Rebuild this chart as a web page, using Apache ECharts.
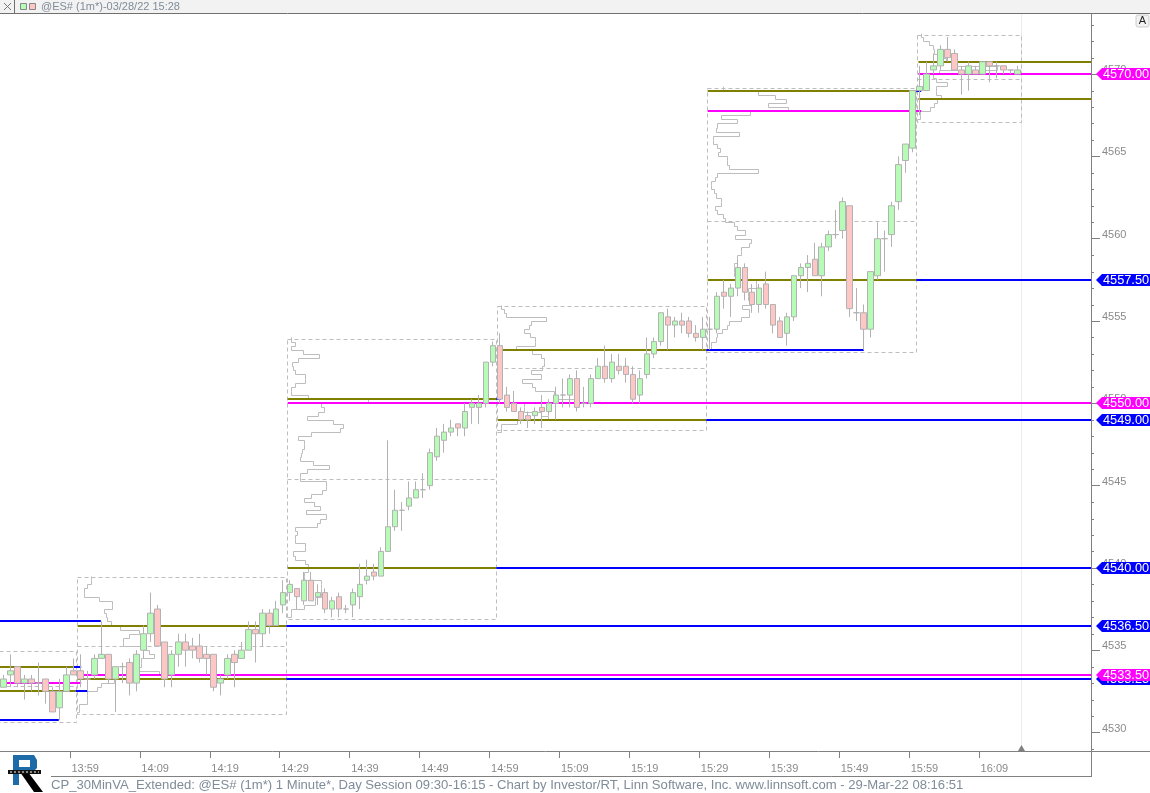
<!DOCTYPE html>
<html>
<head>
<meta charset="utf-8">
<style>html,body{margin:0;padding:0;background:#fff}#c{width:1150px;height:793px}</style>
<script src="https://cdn.jsdelivr.net/npm/echarts@6/dist/echarts.min.js"></script>
</head>
<body>
<div id="c"></div>
<script>
// Ticks and labels
const timeTickLabels = ['13:59','14:09','14:19','14:29','14:39','14:49','14:59','15:09','15:19','15:29','15:39','15:49','15:59','16:09'];
const priceLabelValues = [4530,4535,4540,4545,4550,4555,4560,4565,4570];
const priceMinorValues = [4529,4531,4532,4533,4534,4536,4537,4538,4539,4541,4542,4543,4544,4546,4547,4548,4549,4551,4552,4553,4554,4556,4557,4558,4559,4561,4562,4563,4564,4566,4567,4568,4569,4571,4572,4573];
const barCount = 156;

// One minute bars: open, close, low, high
const ohlc = [
[4532.75,4533.25,4532.75,4533.5],[4533.5,4533.75,4532.75,4534.75],[4534,4533,4532.75,4534],[4533,4533.25,4532,4533.5],
[4533.25,4533,4532.5,4533.5],[4533,4533,4532.25,4534.25],[4533.25,4532.5,4531.75,4533.25],[4532.5,4531.25,4531.25,4532.75],
[4531.5,4532.5,4530.75,4533.25],[4532.5,4533.5,4532.5,4534],[4533.75,4533.5,4533.5,4534.5],[4533.75,4533.25,4532.75,4534.75],
[4533.25,4533.25,4532.5,4533.75],[4533.5,4534.5,4533.25,4534.75],[4534.5,4534.75,4534.5,4536.75],[4534.75,4533.25,4533,4534.75],
[4533.25,4534,4531.25,4534],[4534,4534,4533,4534.25],[4534.25,4533,4532.25,4534.5],[4533,4534.75,4532.5,4535],
[4535,4536,4534.5,4536.5],[4536,4537.25,4535.5,4538.5],[4537.5,4535.25,4535.25,4537.75],[4535.5,4533.25,4532.75,4535.5],
[4533.5,4534.75,4532.75,4535],[4534.75,4535.5,4534,4536],[4535.5,4535,4534,4536],[4535.25,4535,4534.5,4535.75],
[4535.25,4534.5,4534.25,4536],[4534.75,4534.5,4533.5,4535.25],[4534.75,4532.75,4532.5,4534.75],[4533,4533.25,4532.25,4533.5],
[4533.5,4534.5,4533.25,4534.75],[4534.75,4534.25,4532.75,4535],[4534.5,4535,4534.5,4535.5],[4535,4536.25,4535,4536.75],
[4536.25,4536,4534.25,4536.75],[4536,4537.25,4535.25,4537.5],[4537.25,4536.5,4536,4537.5],[4536.5,4537.5,4536.5,4538],
[4537.75,4538.5,4537.25,4539.25],[4538.5,4539,4538,4539.25],[4538.75,4538.25,4537.5,4538.75],[4538,4539.25,4537.75,4539.75],
[4539.25,4538,4538,4539.75],[4538.25,4538.5,4537.75,4539],[4538.5,4537.5,4537.25,4538.75],[4537.5,4538,4537,4538.25],
[4538.25,4537.5,4537,4538.5],[4537.5,4537.5,4537.25,4537.75],[4537.75,4538.5,4537,4538.75],[4538.25,4539,4537.5,4540.25],
[4539.25,4539.5,4539,4540.5],[4539.75,4539.5,4539.25,4540.25],[4539.5,4541,4539.5,4541.25],[4541,4542.5,4541,4547.75],
[4542.5,4543.5,4542.25,4544.75],[4543.5,4543.5,4542.25,4544],[4543.75,4544.25,4543.5,4545.25],[4544.25,4544.75,4544.25,4545.25],
[4544.75,4544.75,4544.25,4545.75],[4545,4547,4544.75,4547.25],[4546.75,4548,4546.5,4548.5],[4547.75,4548.25,4547,4548.75],
[4548.25,4548.5,4548,4549],[4548.75,4548.5,4548,4548.75],[4548.5,4549.5,4548,4550],[4549.75,4550,4548.75,4550.25],
[4549.75,4550,4548.75,4550.5],[4550,4552.5,4549.75,4552.5],[4552.5,4553.5,4552.25,4553.75],[4553.5,4550.25,4550,4554.25],
[4550.5,4549.75,4549.5,4551],[4550,4549.5,4549.5,4550.75],[4549.5,4549,4548.75,4549.75],[4549.25,4549,4548.5,4549.5],
[4549.25,4549.5,4548.75,4549.75],[4549.75,4549.5,4548.5,4550.5],[4549.5,4550,4549.25,4550.25],[4550,4550.5,4549,4551],
[4550.5,4550.5,4549.75,4551.5],[4550.5,4551.5,4549.75,4551.75],[4551.5,4549.75,4549.5,4552],[4550,4550,4549.75,4551],
[4550,4551.5,4549.75,4551.75],[4551.5,4552.25,4551.5,4552.75],[4552.25,4551.5,4551.25,4553.5],[4551.5,4552.5,4551.25,4553],
[4552.25,4552,4551.75,4553],[4552.25,4551.75,4551.25,4552.75],[4551.75,4550.25,4550,4552.25],[4550.5,4551.5,4550,4552],
[4551.75,4553,4551.5,4554],[4553,4553.75,4552.75,4554],[4553.75,4555.5,4553.5,4555.5],[4555.25,4554.75,4553.25,4555.75],
[4554.75,4555,4554,4555.25],[4555,4554.75,4554.25,4555.5],[4555,4554.25,4554,4555.25],[4554.25,4554,4553.75,4554.75],
[4554,4554.5,4553.25,4555.25],[4554.5,4554.5,4553.25,4555.25],[4554.5,4556.5,4554.25,4556.75],[4556.75,4556.5,4555.75,4557.5],
[4556.5,4557,4555.25,4557.25],[4557,4558.25,4556.5,4558.75],[4558.25,4556.75,4556.25,4558.5],[4556.75,4556,4555.5,4557.25],
[4556,4557,4555.5,4557.25],[4557.25,4556,4555.75,4558],[4556,4554.75,4554.25,4556],[4555,4554,4554,4555.25],
[4554.25,4555.25,4553.5,4555.5],[4555.25,4557.75,4555,4557.75],[4557.75,4558.25,4557,4558.5],[4558.25,4558.5,4556.75,4559],
[4558.75,4557.75,4557.75,4559.75],[4557.75,4559.5,4556.5,4559.75],[4559.5,4560.25,4559.25,4560.5],[4560.25,4560.25,4560,4561.75],
[4560.5,4562.25,4560,4562.5],[4562,4555.75,4555.25,4562],[4555.5,4555.5,4555,4557],[4555.5,4554.5,4553.25,4556],
[4554.5,4558,4554,4558],[4557.75,4560,4557.5,4561],[4560,4560,4558,4560.5],[4560.25,4562,4559.5,4562.25],
[4562.25,4564.5,4561.75,4565],[4564.75,4565.75,4564,4565.75],[4565.5,4569,4565.25,4569],[4569,4569.25,4567.5,4570.5],
[4569,4570,4569,4570.75],[4570.25,4570.5,4570,4571.25],[4570.5,4571.5,4570.25,4571.75],[4571.5,4571,4570.75,4572.25],
[4571.25,4570.25,4570.25,4571.5],[4570.25,4570,4568.75,4570.5],[4570,4570.5,4569,4570.75],[4570.25,4570,4570,4570.5],
[4570,4570.75,4570,4570.75],[4570.75,4570.5,4569.5,4570.75],[4570.5,4570.5,4569.75,4570.75],[4570.5,4570.25,4570,4570.5],
[4570.25,4570.25,4570,4570.25],[4570,4570.25,4570,4570.5]
];

// Horizontal levels: start bar, end bar, price
const oliveLevels = [[-0.5,10,4534],[-0.5,10.3,4532.5],[10.6,40.4,4536.5],[10.6,40.4,4533.25],[40.6,70.4,4550.25],[40.6,70.4,4540],[70.6,100.4,4553.25],[70.6,100.4,4549],[100.6,130.4,4569],[100.6,130.4,4557.5],[130.7,155.4,4570.75],[130.7,155.4,4568.5]];
const blueLevels = [[-0.5,13.9,4536.75],[-0.5,7.9,4530.75],[10,11.1,4534],[10.3,12,4532.5],[40.4,155.4,4536.5],[40.4,155.4,4533.25],[70.4,71,4550.25],[70.4,155.4,4540],[100.4,122.9,4553.25],[100.4,155.4,4549],[130.4,131.1,4569],[130.4,155.4,4557.5]];
const magentaLevels = [[-0.5,11.1,4533],[10.6,155.4,4533.5],[40.6,155.4,4550],[100.6,131.1,4567.75],[130.7,155.4,4570]];

// Session boxes: start bar, end bar, low, middle, high
const sessionBoxes = [
[-0.6,10.4,4530.65,4532.8,4534.97],[10.5,40.4,4531.15,4535.23,4539.44],[40.5,70.4,4536.9,4545.38,4553.92],
[70.5,100.4,4548.36,4552.12,4555.94],[100.5,130.4,4553.09,4561.09,4569.14],[130.5,145.4,4567.1,4569.7,4572.37]
];

// Volume profiles: start bar, top price, then size per quarter point from the top down
const profileB = [10.5,4539.5,[13,13,9,6,6,21,34,34,26,28,29,33,42,61,51,45,45,66,71,76,63,63,61,81,56,36,23,19,9,9,9,1,1]];
const profileC = [40.5,4554,[3,7,3,15,31,10,4,5,7,17,17,7,3,3,20,80,33,36,30,19,45,55,52,23,10,16,16,14,13,12,25,41,19,12,12,38,38,34,23,16,26,32,18,38,32,29,7,9,7,7,17,17,5,7,17,20,20,16,16,33,33,33,33,27,27,16,3,3]];
const profileD = [70.5,4556,[3,6,8,48,33,31,26,32,37,37,18,34,43,46,46,44,33,43,24,34,37,56,56,76,26,26,43,50,19,3,3]];
const profileE = [100.5,4569.25,[15,50,67,78,60,80,42,13,29,9,8,31,5,5,9,12,10,19,19,21,50,9,7,3,3,6,8,13,13,7,9,15,17,26,29,37,27,43,41,33,33,29,29,26,26,26,30,48,48,40,40,40,43,34,41,41,33,21,19,14,9,8,3,3]];
const profileF = [130.5,4572.5,[3,5,11,15,16,19,28,36,79,21,15,18,29,18,18,23,19,16,12,2,2]];
const profileUnitsPerBar = 7;

// Price tags on the right axis, painted in this order
const priceTags = [[4570,'#ff00ff'],[4557.5,'#0000ff'],[4549,'#0000ff'],[4550,'#ff00ff'],[4540,'#0000ff'],[4536.5,'#0000ff'],[4533.25,'#0000ff'],[4533.5,'#ff00ff']];

const categories = [];
for (let i = 0; i < barCount; i++) {
  const t = 13 * 60 + 49 + i;
  categories.push(String(Math.floor(t / 60)) + ':' + String(t % 60).padStart(2, '0'));
}
const labelSet = new Set(timeTickLabels);
const FONT = '"Liberation Sans", Arial, sans-serif';
const GREY = '#b2b2b2';
const AXIS = '#808080';

function levelSeries(name, rows, color) {
  return {
    name, type: 'custom', xAxisIndex: 1, yAxisIndex: 0, z: 3, animation: false, clip: true, silent: true,
    data: rows,
    encode: { x: [0, 1], y: 2 },
    renderItem(p, api) {
      const a = api.coord([api.value(0), api.value(2)]);
      const b = api.coord([api.value(1), api.value(2)]);
      const y = Math.round(a[1]);
      return { type: 'line', shape: { x1: a[0], y1: y, x2: b[0], y2: y }, style: { stroke: color, lineWidth: 2 } };
    }
  };
}

function profileSeries(name, prof) {
  const base = prof[0], top = prof[1], sizes = prof[2];
  const xOf = w => base + (w + 1) / profileUnitsPerBar;
  const rows = sizes.map((w, i) => [xOf(w), top - i * 0.25, top - (i + 1) * 0.25, i + 1 < sizes.length ? xOf(sizes[i + 1]) : base]);
  return {
    name, type: 'custom', xAxisIndex: 1, yAxisIndex: 0, z: 2, animation: false, silent: true, clip: true,
    data: rows,
    encode: { x: [0, 3], y: [1, 2] },
    renderItem(p, api) {
      const snap = v => Math.round(v) + .5;
      const x = snap(api.coord([api.value(0), 0])[0]), xn = snap(api.coord([api.value(3), 0])[0]);
      const y0 = snap(api.coord([0, api.value(1)])[1]), y1 = snap(api.coord([0, api.value(2)])[1]);
      return { type: 'polyline', shape: { points: [[x, y0], [x, y1], [xn, y1]] }, style: { stroke: '#bdbdbd', lineWidth: 1, fill: null } };
    }
  };
}

const boxSeries = {
  name: 'boxes', type: 'custom', xAxisIndex: 1, yAxisIndex: 0, z: 1, animation: false, silent: true, clip: true,
  data: sessionBoxes,
  encode: { x: [0, 1], y: [2, 4] },
  renderItem(p, api) {
    const x0 = api.coord([api.value(0), 0])[0], x1 = api.coord([api.value(1), 0])[0];
    const L = Math.round(x0) + .5, R = Math.round(x1) + .5;
    const yy = [2, 3, 4].map(i => Math.round(api.coord([0, api.value(i)])[1]) + .5);
    const st = { stroke: '#bdbdbd', lineWidth: 1, lineDash: [4, 3], fill: null };
    return { type: 'group', children: [
      { type: 'rect', shape: { x: L, y: yy[2], width: R - L, height: yy[0] - yy[2] }, style: st },
      { type: 'line', shape: { x1: L, y1: yy[1], x2: R, y2: yy[1] }, style: st }
    ] };
  }
};

const minorTickSeries = {
  name: 'minor ticks', type: 'custom', xAxisIndex: 1, yAxisIndex: 0, z: 6, animation: false, silent: true, clip: false,
  data: priceMinorValues.map(v => [0, v]),
  encode: { y: 1 },
  renderItem(p, api) {
    const y = Math.round(api.coord([0, api.value(1)])[1]) + .5;
    const r = p.coordSys.x + p.coordSys.width;
    return { type: 'line', shape: { x1: r, y1: y, x2: r + 3, y2: y }, style: { stroke: AXIS, lineWidth: 1 } };
  }
};

const tagSeries = {
  name: 'tags', type: 'custom', xAxisIndex: 1, yAxisIndex: 0, z: 8, animation: false, silent: true, clip: false,
  data: priceTags.map(t => [0, t[0]]),
  encode: { y: 1 },
  renderItem(p, api) {
    const price = api.value(1);
    const color = priceTags[p.dataIndex][1];
    const y = Math.round(api.coord([0, price])[1]);
    const r = p.coordSys.x + p.coordSys.width;
    return { type: 'group', children: [
      { type: 'polygon', shape: { points: [[r + 5, y], [r + 11, y - 6], [r + 60, y - 6], [r + 60, y + 6], [r + 11, y + 6]] }, style: { fill: color } },
      { type: 'text', style: { text: price.toFixed(2), x: r + 12, y: y, fill: '#fff', font: '12.75px ' + FONT, verticalAlign: 'middle', align: 'left' } }
    ] };
  }
};

const T_GREY = '#7f8c99';
const graphic = [
  // header
  { type: 'rect', shape: { x: 0, y: 0, width: 1150, height: 13 }, style: { fill: '#f2f2f2' }, z: 9 },
  { type: 'line', shape: { x1: 0, y1: 13.5, x2: 1150, y2: 13.5 }, style: { stroke: '#707070', lineWidth: 1 }, z: 10 },
  { type: 'line', shape: { x1: 14.5, y1: 0, x2: 14.5, y2: 13 }, style: { stroke: '#707070', lineWidth: 1 }, z: 10 },
  { type: 'line', shape: { x1: 4, y1: 3, x2: 11, y2: 10 }, style: { stroke: '#777', lineWidth: 1 }, z: 10 },
  { type: 'line', shape: { x1: 11, y1: 3, x2: 4, y2: 10 }, style: { stroke: '#777', lineWidth: 1 }, z: 10 },
  { type: 'rect', shape: { x: 20.5, y: 3.5, width: 6, height: 6 }, style: { fill: '#b6fbb6', stroke: '#888' }, z: 10 },
  { type: 'rect', shape: { x: 29.5, y: 3.5, width: 6, height: 6 }, style: { fill: '#ffc6c6', stroke: '#888' }, z: 10 },
  { type: 'text', style: { text: '@ES# (1m*)-03/28/22 15:28', x: 41, y: 7, fill: T_GREY, font: '11px ' + FONT, verticalAlign: 'middle' }, z: 10 },
  // A button
  { type: 'rect', shape: { x: 1136, y: 15, width: 13, height: 12, r: 2 }, style: { fill: '#f2f2f2', stroke: '#cccccc' }, z: 10 },
  { type: 'text', style: { text: 'A', x: 1142.5, y: 21, fill: '#222', font: '11px ' + FONT, align: 'center', verticalAlign: 'middle' }, z: 11 },
  // future-bar guide and marker
  { type: 'line', shape: { x1: 1021.5, y1: 14, x2: 1021.5, y2: 751 }, style: { stroke: '#ececec', lineWidth: 1 }, z: 0 },
  { type: 'polygon', shape: { points: [[1018, 751], [1021.5, 745], [1025, 751]] }, style: { fill: '#808080' }, z: 10 },
  // frame lines
  { type: 'line', shape: { x1: 1091, y1: 751.5, x2: 1150, y2: 751.5 }, style: { stroke: '#808080', lineWidth: 1 }, z: 10 },
  { type: 'line', shape: { x1: 1091.5, y1: 751, x2: 1091.5, y2: 776 }, style: { stroke: '#808080', lineWidth: 1 }, z: 10 },
  { type: 'line', shape: { x1: 51, y1: 776.5, x2: 1092, y2: 776.5 }, style: { stroke: '#808080', lineWidth: 1 }, z: 10 },
  // footer
  { type: 'text', style: { text: 'CP_30MinVA_Extended: @ES# (1m*) 1 Minute*, Day Session 09:30-16:15 - Chart by Investor/RT, Linn Software, Inc. www.linnsoft.com - 29-Mar-22 08:16:51', x: 51, y: 785.5, fill: T_GREY, font: '13.1px ' + FONT, verticalAlign: 'middle' }, z: 10 },
  // logo
  { type: 'polygon', shape: { points: [[13,755],[34,755],[37,760],[37,768],[33,772],[19,772],[19,785],[13,785]] }, style: { fill: '#1d6ca8' }, z: 10 },
  { type: 'rect', shape: { x: 19, y: 760, width: 11, height: 7 }, style: { fill: '#fff' }, z: 11 },
  { type: 'polygon', shape: { points: [[20,772],[28,772],[43,792],[34,792]] }, style: { fill: '#000' }, z: 10 },
  { type: 'rect', shape: { x: 8, y: 770, width: 33, height: 4 }, style: { fill: '#111' }, z: 12 },
  { type: 'line', shape: { x1: 10, y1: 772, x2: 39, y2: 772 }, style: { stroke: '#fff', lineWidth: 1, lineDash: [2, 2] }, z: 13 }
];

const option = {
  backgroundColor: '#ffffff',
  animation: false,
  grid: { left: 0, top: 14, width: 1091, height: 737, containLabel: false },
  graphic,
  xAxis: [
    {
      type: 'category', data: categories, boundaryGap: true, position: 'bottom', z: 5,
      axisLine: { show: true, onZero: false, lineStyle: { color: AXIS, width: 1 } },
      axisTick: { show: true, length: 7, interval: i => labelSet.has(categories[i]), lineStyle: { color: AXIS } },
      axisLabel: { show: true, interval: i => labelSet.has(categories[i]), color: '#8a8a8a', fontFamily: FONT, fontSize: 11, margin: 12, align: 'left', padding: [0, 0, 0, -2] },
      splitLine: { show: false }
    },
    { type: 'value', min: -0.5, max: 155.36, show: false, splitLine: { show: false } }
  ],
  yAxis: [
    {
      type: 'value', position: 'right', min: 4528.876, max: 4573.65, scale: true,
      axisLine: { show: true, onZero: false, lineStyle: { color: AXIS, width: 1 } },
      axisTick: { show: true, length: 9, customValues: priceLabelValues, lineStyle: { color: AXIS } },
      axisLabel: { show: true, customValues: priceLabelValues, color: '#8a8a8a', fontFamily: FONT, fontSize: 11, margin: 11, verticalAlign: 'bottom', lineHeight: 8, formatter: v => String(v) },
      splitLine: { show: false }
    }
  ],
  series: [
    boxSeries,
    profileSeries('profile B', profileB),
    profileSeries('profile C', profileC),
    profileSeries('profile D', profileD),
    profileSeries('profile E', profileE),
    profileSeries('profile F', profileF),
    levelSeries('olive', oliveLevels, '#808000'),
    levelSeries('blue', blueLevels, '#0000ff'),
    levelSeries('magenta', magentaLevels, '#ff00ff'),
    {
      name: '@ES#', type: 'candlestick', xAxisIndex: 0, yAxisIndex: 0, z: 5, silent: true, animation: false,
      barWidth: 6, clip: false,
      data: ohlc,
      itemStyle: { color: '#b6fbb6', color0: '#ffc6c6', borderColor: GREY, borderColor0: GREY, borderColorDoji: GREY, borderWidth: 1 }
    },
    minorTickSeries,
    tagSeries
  ]
};
echarts.init(document.getElementById('c'), null, { renderer: 'canvas' }).setOption(option);
</script>
</body>
</html>
